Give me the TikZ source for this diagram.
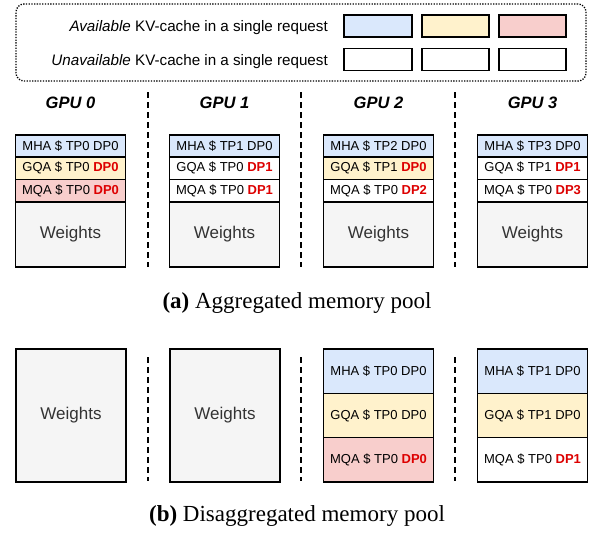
\documentclass[tikz,border=0pt]{standalone}
\usepackage{fontspec}
\newfontfamily\arial{Liberation Sans}
\newfontfamily\capserif{Liberation Serif}
\usetikzlibrary{calc}
\pgfdeclarelayer{bg}
\pgfsetlayers{bg,main}
\definecolor{kvblue}{HTML}{DAE8FC}
\definecolor{kvyellow}{HTML}{FFF2CC}
\definecolor{kvred}{HTML}{F8CECC}
\definecolor{wgray}{HTML}{F5F5F5}
\definecolor{dpred}{HTML}{DD0000}
\definecolor{wtext}{HTML}{333333}
\tikzset{
  cell/.style={draw=black, line width=1.3pt, rectangle, inner sep=0pt, outer sep=0pt,
    minimum width=110pt, font=\arial\fontsize{13}{15}\selectfont, text=black},
  wcell/.style={cell, fill=wgray, font=\arial\fontsize{17}{20}\selectfont, text=wtext},
  legcell/.style={draw=black, line width=1.3pt, rectangle, inner sep=0pt, outer sep=0pt,
    minimum height=22pt},
  legtext/.style={anchor=base east, inner sep=0pt, font=\arial\fontsize{15.2}{18}\selectfont},
  gpulabel/.style={anchor=base, inner sep=0pt, font=\arial\bfseries\itshape\fontsize{16.5}{20}\selectfont},
  sepline/.style={line width=1.5pt, dash pattern=on 6pt off 4pt},
  legendbox/.style={draw=black, line width=1.3pt, dash pattern=on 1.3pt off 1.4pt,
    rounded corners=8pt, rectangle, inner sep=0pt},
  ghost/.style={line width=2.5pt, line cap=round},
  captiontext/.style={anchor=base, inner sep=0pt, font=\capserif\fontsize{23}{27}\selectfont},
}
\newcommand{\DP}[1]{{\color{dpred}\bfseries DP#1}}
\newcommand{\ghostX}[2]{%
  \begin{pgfonlayer}{bg}
  \begin{scope}
    \clip (#1.south west) rectangle (#1.north east);
    \draw[ghost,draw=#2] (#1.north west) -- ($(#1.south west)!0.5!(#1.south east)$) -- (#1.north east);
    \draw[ghost,draw=#2] (#1.south west) -- ($(#1.north west)!0.5!(#1.north east)$) -- (#1.south east);
  \end{scope}
  \end{pgfonlayer}}
\newcommand{\ghostV}[2]{%
  \begin{pgfonlayer}{bg}
  \begin{scope}
    \clip (#1.south west) rectangle (#1.north east);
    \draw[ghost,draw=#2] ($(#1.north west)!0.12!(#1.north east)$) -- ($(#1.south west)!0.45!(#1.south east)$) -- ($(#1.north west)!0.85!(#1.north east)$);
  \end{scope}
  \end{pgfonlayer}}
\begin{document}
\begin{tikzpicture}[x=1pt,y=-1pt]
\useasboundingbox (0,0) rectangle (593,533);
\fill[white] (0,0) rectangle (593,533);

% ---------------- legend ----------------
\node[legendbox, minimum width=570pt, minimum height=77pt] (legend) at (301,42.5) {};
\node[legtext] (availtxt) at (328,31.5) {\itshape Available\upshape{} KV-cache in a single request};
\node[legtext] (unavailtxt) at (328,65) {\itshape Unavailable\upshape{} KV-cache in a single request};
\node[legcell, fill=kvblue,   minimum width=68pt] (lb1) at (378,26) {};
\node[legcell, fill=kvyellow, minimum width=67pt] (lb2) at (455.5,26) {};
\node[legcell, fill=kvred,    minimum width=67pt] (lb3) at (532.5,26) {};
\node[legcell, minimum width=68pt] (lu1) at (378,59.5) {};
\node[legcell, minimum width=67pt] (lu2) at (455.5,59.5) {};
\node[legcell, minimum width=67pt] (lu3) at (532.5,59.5) {};
\ghostV{lu1}{kvblue!35}
\ghostV{lu2}{kvyellow!60}
\ghostV{lu3}{kvred!45}

% ---------------- (a) aggregated ----------------
\node[gpulabel] (t0) at (70.5,108.5) {GPU 0};
\node[gpulabel] (t1) at (224.5,108.5) {GPU 1};
\node[gpulabel] (t2) at (378.5,108.5) {GPU 2};
\node[gpulabel] (t3) at (532.5,108.5) {GPU 3};

\coordinate (sa1t) at (148,92);  \coordinate (sa1b) at (148,267);
\coordinate (sa2t) at (301,92);  \coordinate (sa2b) at (301,267);
\coordinate (sa3t) at (455,92);  \coordinate (sa3b) at (455,267);
\draw[sepline] (sa1t) -- (sa1b);
\draw[sepline] (sa2t) -- (sa2b);
\draw[sepline] (sa3t) -- (sa3b);

% GPU 0
\node[cell, fill=kvblue,   minimum height=22pt]   (a0m) at (70.5,146)    {MHA \$ TP0 DP0};
\node[cell, fill=kvyellow, minimum height=22.5pt] (a0g) at (70.5,168.25) {GQA \$ TP0 \DP{0}};
\node[cell, fill=kvred,    minimum height=22.5pt] (a0q) at (70.5,190.75) {MQA \$ TP0 \DP{0}};
\node[wcell, minimum height=65pt]                 (a0w) at (70.5,234.5)  {Weights};
% GPU 1
\node[cell, fill=kvblue,   minimum height=22pt]   (a1m) at (224.5,146)    {MHA \$ TP1 DP0};
\node[cell,                minimum height=22.5pt] (a1g) at (224.5,168.25) {GQA \$ TP0 \DP{1}};
\node[cell,                minimum height=22.5pt] (a1q) at (224.5,190.75) {MQA \$ TP0 \DP{1}};
\node[wcell, minimum height=65pt]                 (a1w) at (224.5,234.5)  {Weights};
\ghostX{a1g}{kvyellow!50}
\ghostX{a1q}{kvred!35}
% GPU 2
\node[cell, fill=kvblue,   minimum height=22pt]   (a2m) at (378.5,146)    {MHA \$ TP2 DP0};
\node[cell, fill=kvyellow, minimum height=22.5pt] (a2g) at (378.5,168.25) {GQA \$ TP1 \DP{0}};
\node[cell,                minimum height=22.5pt] (a2q) at (378.5,190.75) {MQA \$ TP0 \DP{2}};
\node[wcell, minimum height=65pt]                 (a2w) at (378.5,234.5)  {Weights};
\ghostX{a2q}{kvred!35}
% GPU 3
\node[cell, fill=kvblue,   minimum height=22pt]   (a3m) at (532.5,146)    {MHA \$ TP3 DP0};
\node[cell,                minimum height=22.5pt] (a3g) at (532.5,168.25) {GQA \$ TP1 \DP{1}};
\node[cell,                minimum height=22.5pt] (a3q) at (532.5,190.75) {MQA \$ TP0 \DP{3}};
\node[wcell, minimum height=65pt]                 (a3w) at (532.5,234.5)  {Weights};
\ghostX{a3g}{kvyellow!50}
\ghostX{a3q}{kvred!35}

\node[captiontext] (capa) at (297,308) {\textbf{(a)} Aggregated memory pool};

% ---------------- (b) disaggregated ----------------
\coordinate (sb1t) at (148,357);  \coordinate (sb1b) at (148,481);
\coordinate (sb2t) at (301,357);  \coordinate (sb2b) at (301,481);
\coordinate (sb3t) at (455,357);  \coordinate (sb3b) at (455,481);
\draw[sepline] (sb1t) -- (sb1b);
\draw[sepline] (sb2t) -- (sb2b);
\draw[sepline] (sb3t) -- (sb3b);

\node[wcell, minimum height=133pt] (b0w) at (71,415.5)  {Weights};
\node[wcell, minimum height=133pt] (b1w) at (225,415.5) {Weights};

\node[cell, fill=kvblue,   minimum height=44.33pt] (b2m) at (378.5,371.17) {MHA \$ TP0 DP0};
\node[cell, fill=kvyellow, minimum height=44.33pt] (b2g) at (378.5,415.5)  {GQA \$ TP0 DP0};
\node[cell, fill=kvred,    minimum height=44.33pt] (b2q) at (378.5,459.83) {MQA \$ TP0 \DP{0}};

\node[cell, fill=kvblue,   minimum height=44.33pt] (b3m) at (532.5,371.17) {MHA \$ TP1 DP0};
\node[cell, fill=kvyellow, minimum height=44.33pt] (b3g) at (532.5,415.5)  {GQA \$ TP1 DP0};
\node[cell,                minimum height=44.33pt] (b3q) at (532.5,459.83) {MQA \$ TP0 \DP{1}};
\ghostX{b3q}{kvred!35}

\node[captiontext] (capb) at (297,521) {\textbf{(b)} Disaggregated memory pool};
\end{tikzpicture}
\end{document}
